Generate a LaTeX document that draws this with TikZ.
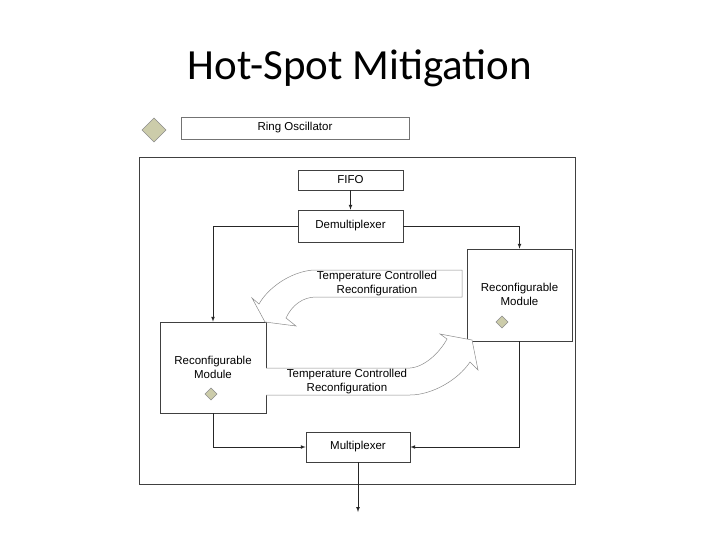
\documentclass[tikz,border=0pt]{standalone}
\usepackage{fontspec}
\setmainfont{Liberation Sans}
\newfontfamily\titlefont{Carlito}
\begin{document}
\begin{tikzpicture}[x=1pt,y=-1pt,
  box/.style={draw=black!75,line width=0.6pt,fill=white,inner sep=0pt,font=\fontsize{11.5}{14}\selectfont,align=center},
  dia/.style={draw=black!45,fill={rgb,255:red,204;green,204;blue,170},line width=0.5pt},
  conn/.style={draw=black!85,line width=0.7pt,-latex},
  blk/.style={draw=black!45,fill=white,line width=0.5pt},
  lbl/.style={font=\fontsize{11.5}{14}\selectfont,align=center,inner sep=0pt}]
\useasboundingbox (0,0) rectangle (720,540);
\node[font=\titlefont\fontsize{43}{46}\selectfont] (title) at (360,68) {Hot-Spot Mitigation};
\fill[dia] (154,118) -- (166,130) -- (154,142) -- (142,130) -- cycle;
\node[box,draw=black!55,minimum width=228pt,minimum height=22pt] (ring) at (295,128) {Ring Oscillator};
\draw[black!75,line width=0.8pt] (139,157) rectangle (575,484);
\node[box,minimum width=105pt,minimum height=20pt] (fifo) at (350.5,180) {FIFO};
\node[box,minimum width=105pt,minimum height=32pt] (demux) at (350.5,226) {Demultiplexer};
\node[box,minimum width=105pt,minimum height=92pt,text depth=1pt] (rm) at (519.5,295) {Reconfigurable\\Module};
\node[box,minimum width=106pt,minimum height=91pt,text depth=1pt] (lm) at (213,367.5) {Reconfigurable\\Module};
\node[box,minimum width=104pt,minimum height=30pt] (mux) at (358,447) {Multiplexer};
\fill[dia] (502,316) -- (508,322) -- (502,328) -- (496,322) -- cycle;
\fill[dia] (211,388) -- (217,394) -- (211,400) -- (205,394) -- cycle;
\coordinate (out) at (358,512);
\draw[conn] (fifo.south) -- (demux.north);
\draw[conn] (demux.west) -| (lm.north);
\draw[conn] (demux.east) -| (rm.north);
\draw[conn] (lm.south) |- (mux.west);
\draw[conn] (rm.south) |- (mux.east);
\draw[conn] (mux.south) -- (out);
% block arrows
\path[blk] (462,270) -- (313,270) .. controls (290,272) and (268,288) .. (259,304) -- (252,298) -- (265,322) -- (296,326) -- (286,318) .. controls (292,305) and (303,297) .. (316,297) -- (462,297) -- cycle;
\path[blk] (266,368) -- (410,368) .. controls (425,367) and (440,352) .. (447,339) -- (440,334) -- (472,340) -- (478,370) -- (470,362) .. controls (458,380) and (432,395) .. (410,395) -- (266,395);
\node[lbl] (t1) at (377,283.5) {Temperature Controlled\\Reconfiguration};
\node[lbl] (t2) at (347,381.5) {Temperature Controlled\\Reconfiguration};
\end{tikzpicture}
\end{document}
